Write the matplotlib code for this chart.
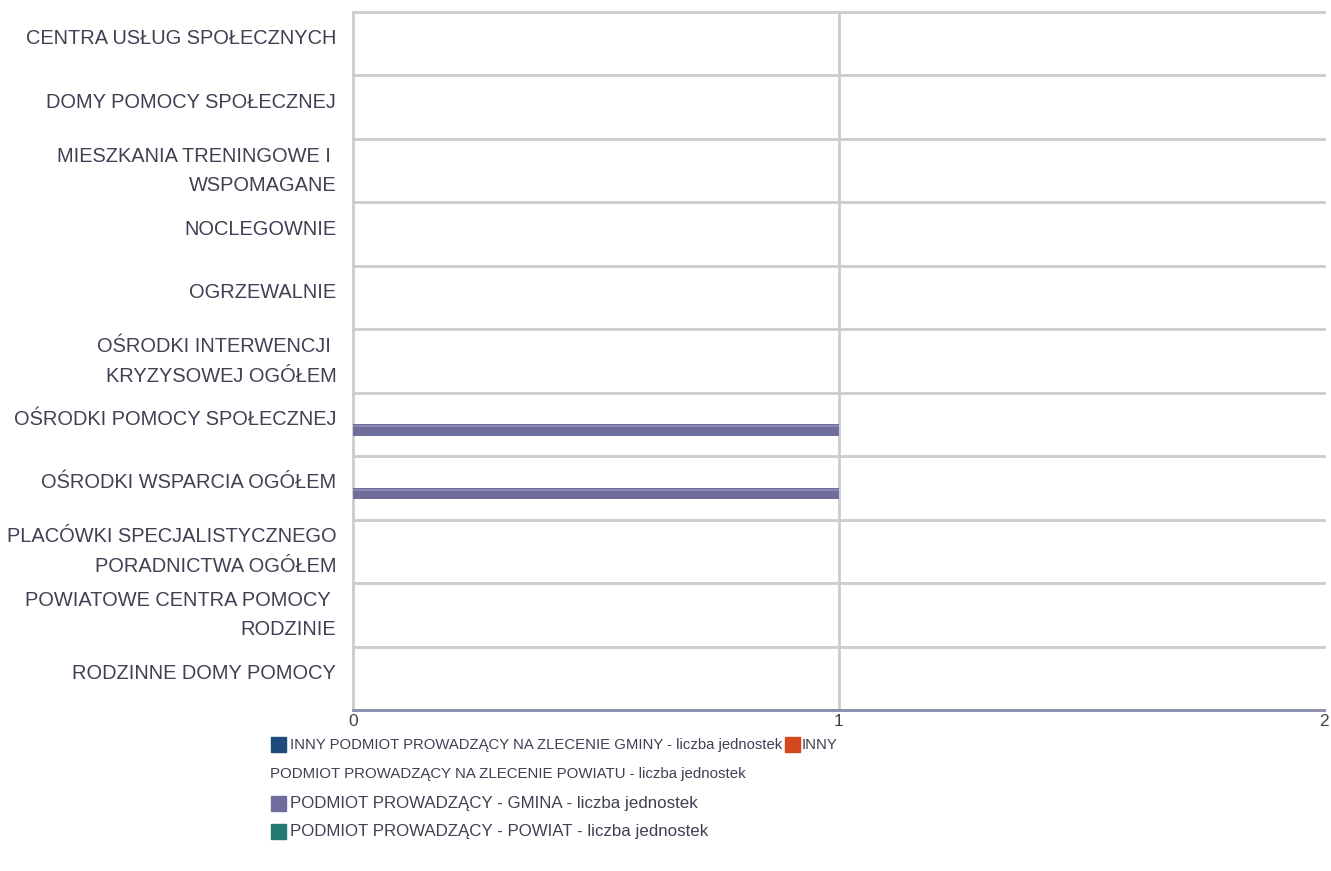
import numpy as np
import matplotlib.pyplot as plt
from matplotlib.patches import Rectangle
from matplotlib.transforms import ScaledTranslation

plt.rcParams['font.family'] = ['Liberation Sans', 'DejaVu Sans']

categories = [
    'CENTRA USŁUG SPOŁECZNYCH',
    'DOMY POMOCY SPOŁECZNEJ',
    'MIESZKANIA TRENINGOWE I \nWSPOMAGANE',
    'NOCLEGOWNIE',
    'OGRZEWALNIE',
    'OŚRODKI INTERWENCJI \nKRYZYSOWEJ OGÓŁEM',
    'OŚRODKI POMOCY SPOŁECZNEJ',
    'OŚRODKI WSPARCIA OGÓŁEM',
    'PLACÓWKI SPECJALISTYCZNEGO\nPORADNICTWA OGÓŁEM',
    'POWIATOWE CENTRA POMOCY \nRODZINIE',
    'RODZINNE DOMY POMOCY',
]
series_names = [
    'INNY PODMIOT PROWADZĄCY NA ZLECENIE GMINY - liczba jednostek',
    'INNY PODMIOT PROWADZĄCY NA ZLECENIE POWIATU - liczba jednostek',
    'PODMIOT PROWADZĄCY - GMINA - liczba jednostek',
    'PODMIOT PROWADZĄCY - POWIAT - liczba jednostek',
]
inny_gmina = [0, 0, 0, 0, 0, 0, 0, 0, 0, 0, 0]
inny_powiat = [0, 0, 0, 0, 0, 0, 0, 0, 0, 0, 0]
gmina = [0, 0, 0, 0, 0, 0, 1, 1, 0, 0, 0]
powiat = [0, 0, 0, 0, 0, 0, 0, 0, 0, 0, 0]
xticks = [0, 1, 2]

colors = ['#1f4a7c', '#d4471c', '#6e6d9c', '#24786f']
txt = '#404052'
grid = '#cccccc'

fig = plt.figure(figsize=(13.31, 8.71), dpi=100)
ax = fig.add_axes([353 / 1331, 161 / 871, 971 / 1331, 698 / 871])

y = np.arange(len(categories))
h = 0.175
for i, vals in enumerate([inny_gmina, inny_powiat, gmina, powiat]):
    off = (i - 1.5) * h
    ax.barh(y + off, vals, height=h, color=colors[i], linewidth=0, zorder=3)
    # lighter rim on top of the bar, like the gradient in the original
    ax.barh(y + off - h * 0.32, vals, height=h * 0.18, color='#9595bd',
            linewidth=0, zorder=3, alpha=0.7 if i == 2 else 0)

ax.set_xlim(0, 2)
ax.set_ylim(len(categories) - 0.5, -0.5)
ax.set_xticks(xticks)
ax.set_xticklabels([str(t) for t in xticks], fontsize=12.5, color=txt)
ax.set_yticks(y)
ax.set_yticklabels(categories, fontsize=14.4, color=txt, linespacing=1.7,
                   ha='right')
ax.tick_params(axis='y', length=0, pad=12)
ax.tick_params(axis='x', length=0, pad=3)
for t in ax.get_yticklabels():
    t.set_transform(t.get_transform() + ScaledTranslation(0, 7 / 100, fig.dpi_scale_trans))

# grid lines between categories
for b in np.arange(-0.5, len(categories) - 0.4, 1):
    ax.axhline(b, color=grid, lw=2, zorder=1, clip_on=False)
for t in xticks[:-1]:
    ax.axvline(t, color=grid, lw=2, zorder=1, clip_on=False)
for s in ['top', 'right', 'left']:
    ax.spines[s].set_visible(False)
ax.spines['bottom'].set_color('#8a8cae')
ax.spines['bottom'].set_linewidth(2)
ax.spines['bottom'].set_zorder(4)

# legend, drawn as flowing text like the original
def sq(x, yy, c):
    fig.patches.append(Rectangle((x / 1331, 1 - yy / 871), 15 / 1331, 15 / 871,
                                 transform=fig.transFigure, color=c))

sq(271, 752, colors[0])
fig.text(290 / 1331, 1 - 745 / 871, series_names[0], fontsize=10.7, color=txt, va='center')
sq(785, 752, colors[1])
fig.text(802 / 1331, 1 - 745 / 871, 'INNY', fontsize=10.7, color=txt, va='center')
fig.text(270 / 1331, 1 - 774 / 871, series_names[1][5:], fontsize=10.8, color=txt, va='center')
sq(271, 811, colors[2])
fig.text(290 / 1331, 1 - 803 / 871, series_names[2], fontsize=12.2, color=txt, va='center')
sq(271, 839, colors[3])
fig.text(290 / 1331, 1 - 831 / 871, series_names[3], fontsize=12.2, color=txt, va='center')

fig.savefig('out.png', dpi=100, facecolor='white')
